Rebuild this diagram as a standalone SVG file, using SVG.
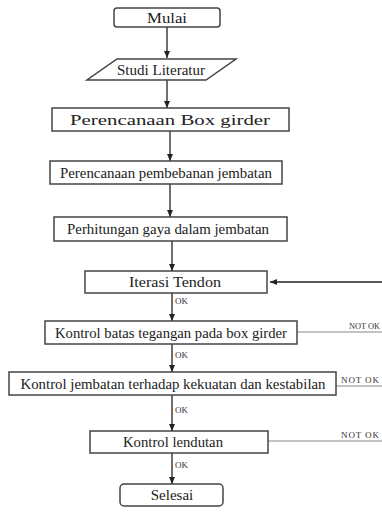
<svg xmlns="http://www.w3.org/2000/svg" width="382" height="512" viewBox="0 0 382 512">
<style>
.box{fill:#fff;stroke:#444;stroke-width:1.5}
.t{font-family:'Liberation Serif','DejaVu Serif',serif;font-size:15px;fill:#222;text-anchor:middle}
.s{font-family:'Liberation Serif','DejaVu Serif',serif;font-size:9px;fill:#333}
.c{stroke:#222;stroke-width:1.3;fill:none}
.n{stroke:#888;stroke-width:1.2;fill:none}
</style>
<defs>
<marker id="ah" markerWidth="8" markerHeight="8" refX="7" refY="4" orient="auto" markerUnits="userSpaceOnUse">
<path d="M0,1 L7,4 L0,7 Z" fill="#222"/>
</marker>
</defs>
<rect width="382" height="512" fill="#fff"/>
<g id="connectors">
<line class="c" x1="167" y1="27" x2="167" y2="58" marker-end="url(#ah)"/>
<line class="c" x1="167" y1="80" x2="167" y2="108" marker-end="url(#ah)"/>
<line class="c" x1="170" y1="131" x2="170" y2="161" marker-end="url(#ah)"/>
<line class="c" x1="170" y1="184" x2="170" y2="217" marker-end="url(#ah)"/>
<line class="c" x1="172" y1="241" x2="172" y2="271" marker-end="url(#ah)"/>
<line class="c" x1="382" y1="282" x2="270" y2="282" marker-end="url(#ah)"/>
<line class="c" x1="172" y1="293" x2="172" y2="321" marker-end="url(#ah)"/>
<text class="s" x="175" y="304">OK</text>
<line class="c" x1="172" y1="344" x2="172" y2="372" marker-end="url(#ah)"/>
<text class="s" x="175" y="358">OK</text>
<line class="c" x1="172" y1="395" x2="172" y2="431" marker-end="url(#ah)"/>
<text class="s" x="175" y="413">OK</text>
<line class="c" x1="172" y1="453" x2="172" y2="484" marker-end="url(#ah)"/>
<text class="s" x="175" y="468">OK</text>
<line class="n" x1="297" y1="332" x2="382" y2="332"/>
<text class="s" x="349" y="329" style="font-size:8.5px" textLength="31" lengthAdjust="spacingAndGlyphs">NOT OK</text>
<line class="n" x1="336" y1="386" x2="382" y2="386"/>
<text class="s" x="341" y="383" textLength="38">NOT OK</text>
<line class="n" x1="268" y1="441" x2="382" y2="441"/>
<text class="s" x="341" y="438" textLength="38">NOT OK</text>
</g>
<g id="mulai"><rect class="box" x="114" y="8" width="106" height="19" rx="3"/><text class="t" x="167" y="23" textLength="40" lengthAdjust="spacingAndGlyphs">Mulai</text></g>
<g id="studi"><polygon class="box" points="117,59 236,59 206,80 87,80"/><text class="t" x="161" y="75" textLength="88" lengthAdjust="spacingAndGlyphs">Studi Literatur</text></g>
<g id="boxgirder"><rect class="box" x="52" y="108" width="237" height="23"/><text class="t" x="170" y="125" textLength="200" lengthAdjust="spacingAndGlyphs">Perencanaan Box girder</text></g>
<g id="pembebanan"><rect class="box" x="50" y="161" width="232" height="23"/><text class="t" x="166" y="178" textLength="212" lengthAdjust="spacingAndGlyphs">Perencanaan pembebanan jembatan</text></g>
<g id="perhitungan"><rect class="box" x="54" y="217" width="233" height="24"/><text class="t" x="168" y="234" textLength="202" lengthAdjust="spacingAndGlyphs">Perhitungan gaya dalam jembatan</text></g>
<g id="iterasi"><rect class="box" x="85" y="271" width="182" height="22"/><text class="t" x="175" y="287" textLength="92" lengthAdjust="spacingAndGlyphs">Iterasi Tendon</text></g>
<g id="kontrolbatas"><rect class="box" x="45" y="321" width="252" height="23"/><text class="t" x="171" y="338" textLength="232" lengthAdjust="spacingAndGlyphs">Kontrol batas tegangan pada box girder</text></g>
<g id="kontroljembatan"><rect class="box" x="9" y="372" width="327" height="23"/><text class="t" x="173" y="389" textLength="305" lengthAdjust="spacingAndGlyphs">Kontrol jembatan terhadap kekuatan dan kestabilan</text></g>
<g id="lendutan"><rect class="box" x="90" y="431" width="178" height="22"/><text class="t" x="173" y="447" textLength="100" lengthAdjust="spacingAndGlyphs">Kontrol lendutan</text></g>
<g id="selesai"><rect class="box" x="120" y="484" width="103" height="22" rx="4"/><text class="t" x="172" y="500">Selesai</text></g>
</svg>
